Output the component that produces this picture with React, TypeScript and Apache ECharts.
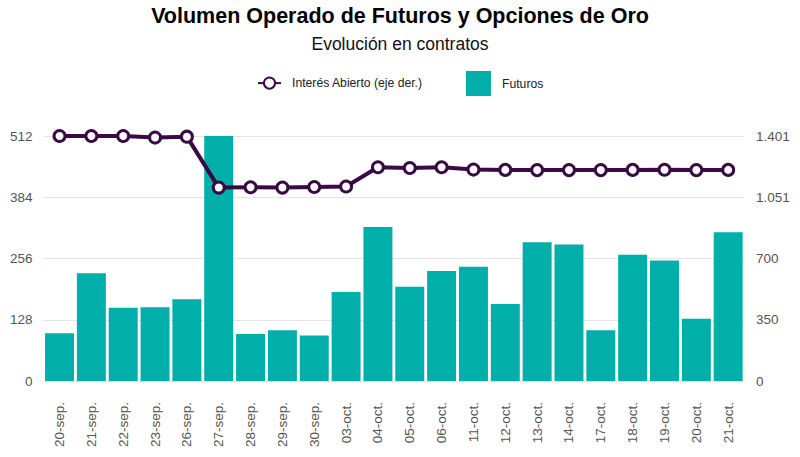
import React, { useEffect, useRef } from 'react';
import * as echarts from 'echarts';

const categories = [
  '20-sep.', '21-sep.', '22-sep.', '23-sep.', '26-sep.', '27-sep.', '28-sep.', '29-sep.',
  '30-sep.', '03-oct.', '04-oct.', '05-oct.', '06-oct.', '11-oct.', '12-oct.', '13-oct.',
  '14-oct.', '17-oct.', '18-oct.', '19-oct.', '20-oct.', '21-oct.',
];

const futuros = [
  100, 225, 153, 154, 171, 512, 98, 106, 95, 186, 322,
  197, 230, 239, 161, 290, 285, 106, 264, 252, 130, 311,
];

const interesAbierto = [
  1401, 1401, 1401, 1392, 1397, 1106, 1108, 1106, 1109, 1112, 1222,
  1218, 1222, 1209, 1207, 1206, 1206, 1206, 1207, 1208, 1206, 1207,
];

const leftMax = 512;
const leftInterval = 128;
const rightMax = 1400.9;
const rightInterval = rightMax / 4;

const fmtEs = (v: number) => String(Math.round(v)).replace(/\B(?=(\d{3})+(?!\d))/g, '.');

const FONT = '"Liberation Sans", Arial, sans-serif';
const BAR = '#00afaa';
const LINE = '#3a0a45';

const App: React.FC = () => {
  const chartRef = useRef<HTMLDivElement>(null);

  useEffect(() => {
    if (!chartRef.current) return;
    document.body.style.margin = '0';
    const chart = echarts.init(chartRef.current, undefined, { renderer: 'svg' });

    const option: echarts.EChartsOption = {
      animation: false,
      backgroundColor: '#ffffff',
      textStyle: { fontFamily: FONT },
      title: [
        {
          text: 'Volumen Operado de Futuros y Opciones de Oro',
          left: 'center',
          top: 5,
          padding: 0,
          textStyle: { fontSize: 21.5, fontWeight: 'bold', color: '#000', fontFamily: FONT },
        },
        {
          text: 'Evolución en contratos',
          left: 'center',
          top: 35,
          padding: 0,
          textStyle: { fontSize: 17.5, fontWeight: 'normal', color: '#111', fontFamily: FONT },
        },
      ],
      legend: [
        {
          data: ['Interés Abierto (eje der.)'],
          left: 257,
          top: 76.5,
          padding: 0,
          itemWidth: 23,
          itemHeight: 14,
          textStyle: { fontSize: 12.2, color: '#222', fontFamily: FONT, padding: [0, 0, 0, 6] },
        },
        {
          data: ['Futuros'],
          left: 466,
          top: 71,
          padding: 0,
          icon: 'rect',
          itemWidth: 25,
          itemHeight: 25,
          textStyle: { fontSize: 12.2, color: '#222', fontFamily: FONT, padding: [0, 0, 0, 6] },
        },
      ],
      grid: { left: 43.6, right: 55.9, top: 136, bottom: 76 },
      xAxis: {
        type: 'category',
        data: categories,
        axisLine: { show: false },
        axisTick: { show: false },
        axisLabel: { rotate: 90, margin: 21, fontSize: 13.5, color: '#555', fontFamily: FONT },
      },
      yAxis: [
        {
          type: 'value',
          min: 0,
          max: leftMax,
          interval: leftInterval,
          axisLine: { show: false },
          axisTick: { show: false },
          splitLine: { lineStyle: { color: '#e3e3e3', width: 1 } },
          axisLabel: { margin: 11, fontSize: 13.5, color: '#555', fontFamily: FONT },
        },
        {
          type: 'value',
          min: 0,
          max: rightMax,
          interval: rightInterval,
          axisLine: { show: false },
          axisTick: { show: false },
          splitLine: { show: false },
          axisLabel: { margin: 12, fontSize: 13.5, color: '#555', fontFamily: FONT, formatter: (v: number) => fmtEs(v) },
        },
      ],
      series: [
        {
          name: 'Futuros',
          type: 'bar',
          data: futuros,
          yAxisIndex: 0,
          barCategoryGap: '9%',
          itemStyle: { color: BAR },
        },
        {
          name: 'Interés Abierto (eje der.)',
          type: 'line',
          data: interesAbierto,
          yAxisIndex: 1,
          z: 5,
          symbol: 'circle',
          symbolSize: 11,
          lineStyle: { color: LINE, width: 4 },
          itemStyle: { color: '#ffffff', borderColor: LINE, borderWidth: 3 },
        },
      ],
    };

    chart.setOption(option);
    return () => {
      chart.dispose();
    };
  }, []);

  return <div ref={chartRef} style={{ width: 800, height: 457 }} />;
};

export default App;
